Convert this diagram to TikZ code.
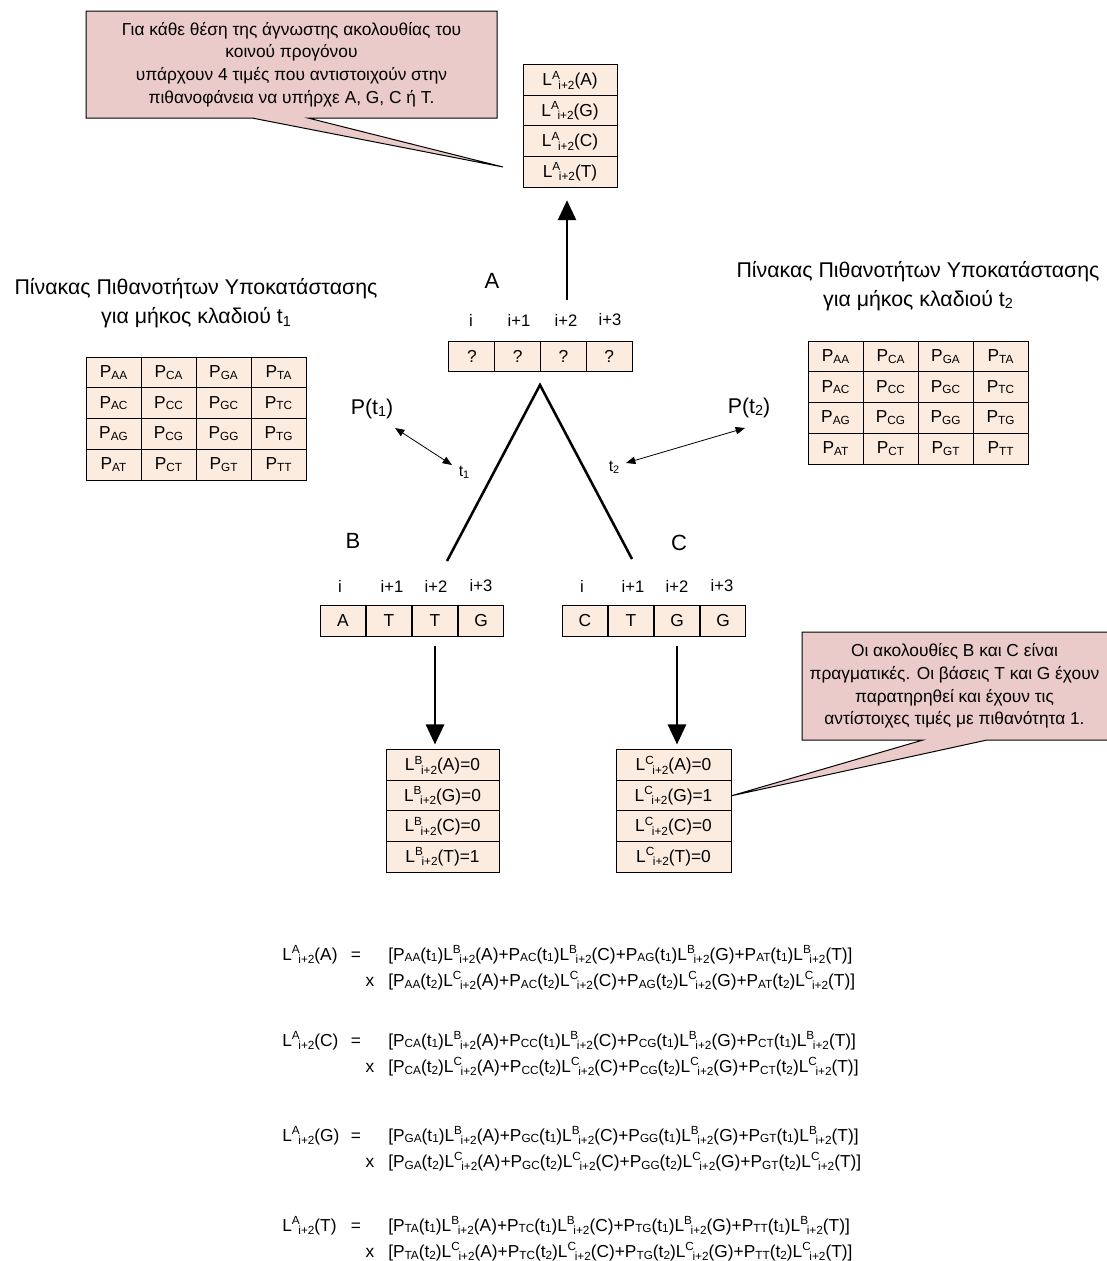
\documentclass[tikz,border=0pt]{standalone}
\usepackage{fontspec}
\setmainfont{Liberation Sans}
\usetikzlibrary{arrows.meta}

\definecolor{cellfill}{HTML}{FCEBDF}
\definecolor{notefill}{HTML}{EBCACA}

% raised / lowered small text for indices
\newcommand\supx[1]{\raisebox{0.72ex}{\scalebox{0.68}{#1}}}
\newcommand\subx[1]{\raisebox{-0.2ex}{\scalebox{0.68}{#1}}}
\newcommand\lsubx[1]{\raisebox{-0.35ex}{\scalebox{0.68}{#1}}}
\newcommand\Lsym[1]{L\supx{#1}\kern-0.08em\lsubx{i+2}}
\newcommand\Psym[1]{P\subx{#1}}
\newcommand\tsym[1]{t\subx{#1}}
% one bracketed sum over the four child bases
\newcommand\bracketsum[3]{[\Psym{#1A}(\tsym{#3})\Lsym{#2}(A)+\Psym{#1C}(\tsym{#3})\Lsym{#2}(C)+\Psym{#1G}(\tsym{#3})\Lsym{#2}(G)+\Psym{#1T}(\tsym{#3})\Lsym{#2}(T)]}

\newcommand\fcell{\fontsize{13}{15}\selectfont}
\newcommand\fidx{\fontsize{12.5}{15}\selectfont}
\newcommand\ftitle{\fontsize{16}{21.75}\selectfont}
\newcommand\flabel{\fontsize{16.5}{18}\selectfont}
\newcommand\fnote{\fontsize{13}{17}\selectfont}
\newcommand\fsmall{\fontsize{12}{14}\selectfont}

\tikzset{
  cell/.style={draw, fill=cellfill, line width=0.75pt, inner sep=0pt, font=\fcell},
  mcell/.style={cell, minimum width=41.25pt, minimum height=23.06pt},
  scell/.style={cell, minimum width=34.4pt, minimum height=22.5pt},
  lcell/.style={cell, minimum width=#1, minimum height=22.9pt},
  note/.style={draw, fill=notefill, line width=0.75pt},
  idx/.style={font=\fidx, inner sep=0pt},
  tree/.style={line width=1.9pt},
  bigarrow/.style={line width=2pt, -{Triangle[length=15pt,width=13.5pt]}},
  thinarrow/.style={line width=0.6pt, {Triangle[length=7pt,width=5.5pt]}-{Triangle[length=7pt,width=5.5pt]}},
  eq/.style={font=\fcell, inner sep=0pt, anchor=base west},
}

\begin{document}
\begin{tikzpicture}[x=0.75pt, y=-0.75pt]
\path[use as bounding box] (0,0) rectangle (1107,1261);

% substitution matrices
\foreach \col [count=\c from 0] in {A,C,G,T}
  \foreach \row [count=\r from 0] in {A,C,G,T} {
    \node[mcell] (ml\col\row) at ({113.5+55*\c},{372.4+30.75*\r}) {\Psym{\col\row}};
    \node[mcell] (mr\col\row) at ({835.5+55*\c},{356.4+30.75*\r}) {\Psym{\col\row}};
  }
\node[font=\ftitle, align=center] (titleL) at (196,303.5)
  {Πίνακας Πιθανοτήτων Υποκατάστασης\\για μήκος κλαδιού \tsym{1}};
\node[font=\ftitle, align=center] (titleR) at (918,286)
  {Πίνακας Πιθανοτήτων Υποκατάστασης\\για μήκος κλαδιού \tsym{2}};

% ancestor sequence A
\node[font=\flabel] (labA) at (492,281) {A};
\foreach \t/\x [count=\k from 0] in {i/471,i+1/519,i+2/566,i+3/610}
  \node[idx] (IA\k) at (\x,320) {\t};
\foreach \s [count=\k from 0] in {?,?,?,?}
  \node[scell] (SA\k) at ({471.9+45.75*\k},356.5) {\s};

% observed sequences B and C
\node[font=\flabel] (labB) at (353,541) {B};
\node[font=\flabel] (labC) at (679,543) {C};
\foreach \t/\x [count=\k from 0] in {i/340,i+1/392,i+2/436,i+3/481}
  \node[idx] (IB\k) at (\x,586) {\t};
\foreach \t/\x [count=\k from 0] in {i/582,i+1/633,i+2/677,i+3/722}
  \node[idx] (IC\k) at (\x,586) {\t};
\foreach \s [count=\k from 0] in {A,T,T,G}
  \node[scell, minimum height=23.25pt] (SB\k) at ({343+46*\k},620.5) {\s};
\foreach \s [count=\k from 0] in {C,T,G,G}
  \node[scell, minimum height=23.25pt] (SC\k) at ({585+46*\k},620.5) {\s};

% likelihood stacks
\foreach \b [count=\r from 0] in {A,G,C,T}
  \node[lcell=70.5pt] (LA\r) at (570,{80.25+30.5*\r}) {\Lsym{A}(\b)};
\foreach \b/\v [count=\r from 0] in {A/0,G/0,C/0,T/1}
  \node[lcell=84.75pt] (LB\r) at (442.5,{765.25+30.5*\r}) {\Lsym{B}(\b)=\v};
\foreach \b/\v [count=\r from 0] in {A/0,G/1,C/0,T/0}
  \node[lcell=86.25pt] (LC\r) at (673.5,{765.25+30.5*\r}) {\Lsym{C}(\b)=\v};

% tree
\coordinate (apex) at (540,385);
\coordinate (legB) at (447,561);
\coordinate (legC) at (632,559);
\draw[tree] (legB) -- (apex) -- (legC);

% arrows between sequences and likelihood stacks
\coordinate (upstart) at (567,300);
\draw[bigarrow, shorten >=9.5pt] (upstart) -- (upstart |- LA3.south);
\draw[bigarrow, shorten <=6.75pt, shorten >=3.75pt] (SB2.south) -- (SB2.south |- LB0.north);
\draw[bigarrow, shorten <=6.75pt, shorten >=3.75pt] (SC2.south) -- (SC2.south |- LC0.north);

% branch lengths
\node[font=\ftitle] (Pt1) at (372,409) {P(\tsym{1})};
\node[font=\ftitle] (Pt2) at (749,408) {P(\tsym{2})};
\node[font=\fsmall, inner sep=0pt] (t1) at (464,472) {\tsym{1}};
\node[font=\fsmall, inner sep=0pt] (t2) at (614,467) {\tsym{2}};
\coordinate (a1s) at (395,428);
\coordinate (a1e) at (452,465);
\coordinate (a2s) at (626,463);
\coordinate (a2e) at (745,428);
\draw[thinarrow] (a1s) -- (a1e);
\draw[thinarrow] (a2s) -- (a2e);

% callouts
\coordinate (tip1) at (503,167);
\draw[note] (86,11) -- (497,11) -- (497,118) -- (308,118) -- (tip1) -- (252,118) -- (86,118) -- cycle;
\node[font=\fnote, align=center] (note1) at (291.5,64.5)
  {Για κάθε θέση της άγνωστης ακολουθίας του\\κοινού προγόνου\\υπάρχουν 4 τιμές που αντιστοιχούν στην\\πιθανοφάνεια να υπήρχε A, G, C ή T.};
\draw[note] (802,632) -- (1110,632) -- (1110,740) -- (987,740) -- (LC1.east) -- (923,740) -- (802,740) -- cycle;
\node[font=\fnote, align=center] (note2) at (954.5,686)
  {Οι ακολουθίες B και C είναι\\πραγματικές. Οι βάσεις T και G έχουν\\παρατηρηθεί και έχουν τις\\αντίστοιχες τιμές με πιθανότητα 1.};

% recursion formulas
\foreach \anc/\yb [count=\k] in {A/960,C/1046,G/1141,T/1231} {
  \node[eq] (lhs\k) at (282,\yb) {\Lsym{A}(\anc)};
  \node[eq, anchor=base] (eqs\k) at (356,\yb) {=};
  \node[eq] (sumB\k) at (388,\yb) {\bracketsum{\anc}{B}{1}};
  \node[eq, anchor=base] (times\k) at (370,{\yb+26.5}) {x};
  \node[eq] (sumC\k) at (388,{\yb+26.5}) {\bracketsum{\anc}{C}{2}};
}
\end{tikzpicture}
\end{document}
